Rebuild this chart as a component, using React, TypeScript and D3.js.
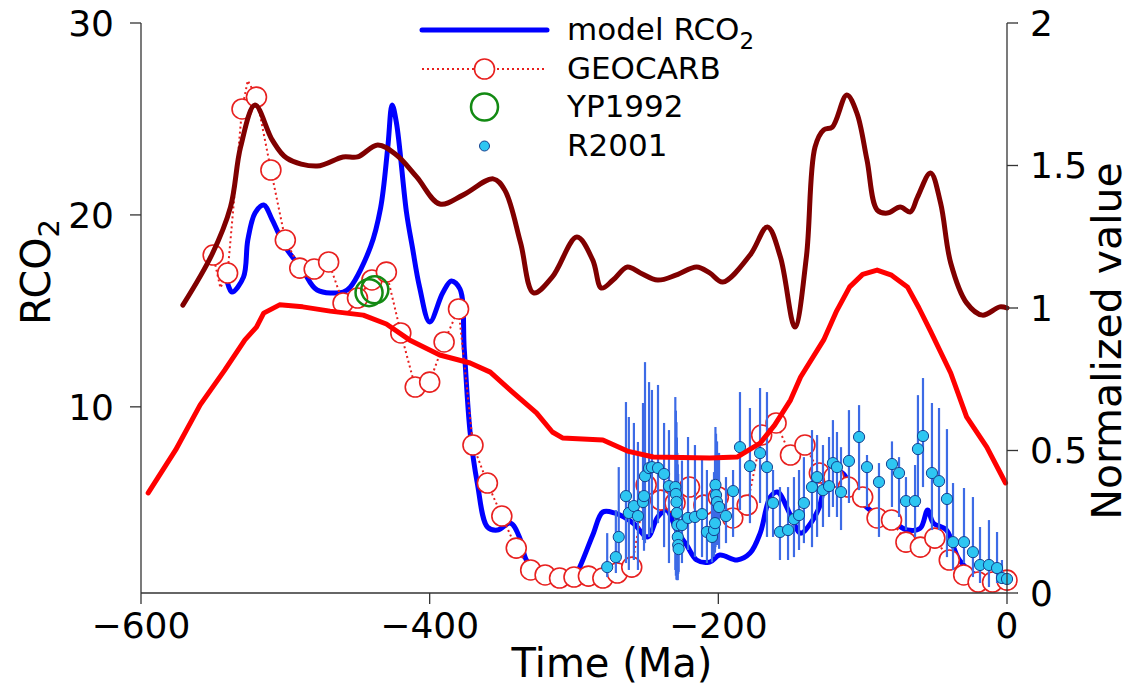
import React from "react";
import * as d3 from "d3";

// ---------- DATA ----------
const modelT = [-540, -537, -529, -526, -521, -515, -509, -500, -488, -478, -460, -455, -441, -434, -429, -426, -423, -416, -412, -407, -400, -391, -385, -379, -376, -372, -367, -360, -353, -344, -337, -333, -322, -310, -300, -296, -287, -280, -272, -259, -249, -242, -236, -229, -222, -215, -206, -199, -187, -178, -171, -164, -159, -150, -143, -136, -130, -123, -114, -104, -93, -81, -69, -60, -55, -51, -42, -33, -19, -7, 0];
const modelV = [16.45, 15.98, 16.76, 18.69, 20.1, 20.52, 19.73, 18.33, 17.13, 16.09, 15.98, 16.24, 18.33, 20.36, 23.54, 25.73, 24.79, 20.1, 18.33, 16.24, 14.42, 15.93, 16.56, 16.14, 12.96, 8.69, 6.03, 3.74, 3.58, 3.94, 3.06, 2.02, 1.2, 1.0, 1.1, 1.65, 3.32, 4.52, 4.47, 3.94, 3.22, 4.26, 4.62, 3.58, 2.8, 2.02, 1.91, 2.28, 2.02, 2.38, 3.42, 5.3, 5.56, 4.36, 3.42, 3.94, 4.78, 6.71, 6.55, 5.3, 4.52, 4.1, 3.58, 3.68, 4.62, 3.94, 3.58, 2.02, 1.13, 0.97, 0.97];

const geocarbT = [-550, -540, -530, -520, -510, -500, -490, -480, -470, -460, -450, -440, -430, -420, -410, -400, -390, -380, -370, -360, -350, -340, -330, -320, -310, -300, -290, -280, -270, -260, -250, -240, -230, -220, -210, -200, -190, -180, -170, -160, -150, -140, -130, -120, -110, -100, -90, -80, -70, -60, -50, -40, -30, -20, -10, 0];
const geocarbV = [17.91, 16.97, 25.52, 26.14, 22.34, 18.69, 17.23, 17.18, 17.55, 15.41, 15.67, 16.61, 17.02, 13.85, 11.03, 11.29, 13.38, 15.1, 8.01, 6.03, 4.31, 2.64, 1.5, 1.24, 1.08, 1.13, 1.18, 1.08, 1.34, 1.65, 5.93, 5.14, 4.99, 5.82, 4.88, 5.3, 4.21, 4.88, 8.53, 9.16, 7.49, 8.01, 6.55, 6.34, 5.82, 5.3, 4.21, 4.1, 2.95, 2.69, 3.16, 2.02, 1.24, 0.87, 0.87, 0.97];
// extra (unmarked) vertices of the GEOCARB dotted line
const geocarbExtraT = [-545, -526];
const geocarbExtraV = [16.2, 27.0];

const yp1992T = [-442, -438];
const yp1992V = [15.95, 16.1];

const r2001T = [-277, -271, -269, -264, -262, -258.5, -255.7, -252.2, -251.5, -250.8, -248, -246, -241.8, -237.6, -234.2, -229.8, -229.4, -229.0, -228.7, -228.4, -228.1, -227.8, -227.5, -225.2, -221, -216.2, -211.3, -207.9, -204.4, -203, -202.3, -202.0, -201.6, -200.9, -199.5, -194.7, -189.8, -185, -178.1, -171.1, -166.3, -162.1, -157.3, -151.7, -147.6, -144.1, -140.7, -135.1, -131.6, -127.5, -123.3, -120.6, -117.8, -115, -109.5, -102.5, -97, -88.7, -79.7, -74.8, -70, -63.7, -61.7, -58.2, -52, -47.1, -41.6, -37.4, -29.8, -23.6, -18.7, -12.5, -6.9, -3.5, 0];
const r2001V = [1.65, 2.17, 3.22, 5.35, 4.47, 4.83, 4.31, 5.04, 5.35, 6.39, 6.81, 6.86, 6.81, 6.5, 5.87, 5.82, 5.46, 5.04, 4.47, 3.84, 3.22, 2.8, 2.59, 3.84, 4.21, 4.26, 4.41, 3.48, 3.22, 3.58, 3.94, 5.93, 5.4, 5.04, 4.78, 4.31, 5.61, 7.9, 6.91, 7.59, 6.86, 4.99, 3.48, 3.58, 4.15, 4.36, 4.99, 5.82, 6.34, 5.66, 5.87, 7.07, 6.86, 5.56, 7.18, 8.43, 6.86, 6.08, 7.02, 6.55, 5.09, 5.09, 7.8, 8.48, 6.55, 6.13, 5.2, 2.95, 2.95, 2.43, 1.76, 1.76, 1.6, 1.08, 1.03];
const r2001Lo = [1.13, 1.34, 1.86, 1.86, 1.5, 2.02, 1.5, 3.06, 2.5, 2.9, 3.22, 3.42, 3.94, 2.69, 1.86, 1.5, 1.2, 1.0, 0.97, 1.1, 0.97, 1.3, 1.4, 1.86, 2.54, 2.17, 2.17, 1.86, 1.9, 2.2, 2.4, 2.69, 2.9, 2.8, 2.6, 2.9, 3.22, 4.62, 3.94, 4.99, 3.22, 3.22, 2.02, 2.02, 2.17, 2.54, 2.9, 2.69, 3.22, 3.74, 4.26, 4.78, 4.26, 3.58, 4.99, 5.66, 4.78, 3.22, 4.78, 4.26, 3.58, 3.22, 4.78, 5.82, 3.58, 3.58, 2.17, 1.5, 1.86, 1.13, 0.82, 0.61, 0.82, 0.82, 0.9];
const r2001Hi = [3.42, 4.62, 6.86, 10.25, 9.47, 9.16, 8.17, 10.2, 9.8, 12.33, 11.29, 10.88, 11.14, 9.16, 8.79, 10.51, 9.8, 9.2, 8.4, 7.6, 7.0, 6.5, 5.9, 7.2, 8.43, 8.01, 7.23, 6.71, 6.2, 6.6, 7.4, 8.95, 8.6, 8.2, 7.6, 6.34, 6.71, 10.77, 9.94, 10.98, 10.77, 6.71, 5.82, 5.82, 6.34, 6.71, 7.38, 8.79, 8.53, 8.01, 8.43, 9.31, 8.69, 7.9, 9.83, 10.09, 7.49, 7.07, 8.2, 7.38, 6.34, 6.97, 10.61, 11.5, 10.2, 9.94, 8.84, 6.03, 5.77, 5.3, 3.74, 4.1, 3.48, 2.02, 1.2];

// normalized curves (right axis)
const darkT = [-571, -551, -538, -531, -521, -509, -499, -478, -460, -450, -436, -423, -409, -393, -377, -356, -348, -337, -328, -315, -298, -287, -281, -273, -263, -254, -242, -229, -215, -206, -197, -178, -166, -157, -147, -139, -133, -127, -121, -111, -104, -97, -90, -83, -74, -67, -62, -53, -46, -39, -28, -17, -5, 0];
const darkN = [1.01, 1.186, 1.354, 1.565, 1.712, 1.589, 1.526, 1.498, 1.53, 1.53, 1.572, 1.537, 1.46, 1.365, 1.396, 1.453, 1.414, 1.228, 1.053, 1.109, 1.249, 1.168, 1.07, 1.098, 1.144, 1.123, 1.098, 1.116, 1.144, 1.123, 1.091, 1.186, 1.284, 1.179, 0.933, 1.179, 1.565, 1.625, 1.635, 1.747, 1.684, 1.519, 1.344, 1.333, 1.354, 1.337, 1.389, 1.474, 1.368, 1.158, 1.018, 0.975, 1.004, 1.0];

const redT = [-595, -576, -559, -542, -528, -520, -515, -504, -488, -469, -446, -430, -414, -393, -372, -358, -342, -326, -315, -308, -280, -263, -245, -206, -187, -171, -161, -150, -143, -127, -118, -109, -100, -90, -80, -69, -61, -53, -39, -28, -14, -1];
const redN = [0.351, 0.502, 0.66, 0.782, 0.888, 0.933, 0.982, 1.011, 1.004, 0.989, 0.975, 0.944, 0.888, 0.835, 0.807, 0.775, 0.702, 0.632, 0.565, 0.544, 0.537, 0.498, 0.477, 0.474, 0.477, 0.526, 0.589, 0.677, 0.758, 0.888, 0.99, 1.074, 1.118, 1.133, 1.115, 1.074, 1.0, 0.919, 0.772, 0.618, 0.512, 0.386];

const xTicks = [-600, -400, -200, 0];
const yLeftTicks = [10, 20, 30];
const yRightTicks = [0, 0.5, 1, 1.5, 2];
const rightTickLabels = ["0", "0.5", "1", "1.5", "2"];
const legendLabels = ["model RCO", "GEOCARB", "YP1992", "R2001"];

// ---------- CHART ----------
const W = 1131;
const H = 685;
const FONT = "DejaVu Sans, sans-serif";

const fmt = (v: number) => (v < 0 ? "\u2212" + Math.abs(v) : String(v));

export default function App() {
  const x = d3.scaleLinear().domain([-600, 0]).range([141, 1007]);
  const yL = d3.scaleLinear().domain([0.3, 30]).range([593, 23]);
  const yR = d3.scaleLinear().domain([0, 2]).range([593, 23]);

  const modelPts: [number, number][] = modelT.map((t, i) => [t, modelV[i]]);
  const modelLine = d3
    .line<[number, number]>()
    .x((d) => x(d[0]))
    .y((d) => yL(d[1]))
    .curve(d3.curveCatmullRom.alpha(0.5))(modelPts) as string;

  const gcAll: [number, number][] = geocarbT
    .map((t, i) => [t, geocarbV[i]] as [number, number])
    .concat(geocarbExtraT.map((t, i) => [t, geocarbExtraV[i]] as [number, number]))
    .sort((a, b) => a[0] - b[0]);
  const gcLine = d3
    .line<[number, number]>()
    .x((d) => x(d[0]))
    .y((d) => yL(d[1]))(gcAll) as string;

  const darkLine = d3
    .line<number>()
    .x((d, i) => x(darkT[i]))
    .y((d) => yR(d))
    .curve(d3.curveCatmullRom.alpha(0.5))(darkN) as string;

  const redLine = d3
    .line<number>()
    .x((d, i) => x(redT[i]))
    .y((d) => yR(d))(redN) as string;

  const axisColor = "#333";
  const tickFs = 36;
  const legX0 = 422;
  const legX1 = 547;
  const legMid = (legX0 + legX1) / 2;
  const legTextX = 567;
  const legRows = [30, 69, 107, 146];
  const legFs = 31;

  return (
    <svg
      width={W}
      height={H}
      style={{ position: "absolute", left: 0, top: 0, background: "#fff" }}
      fontFamily={FONT}
    >
      <rect x={0} y={0} width={W} height={H} fill="#fff" />

      {/* model line */}
      <path d={modelLine} fill="none" stroke="#0000ff" strokeWidth={5} strokeLinejoin="round" strokeLinecap="round" />

      {/* GEOCARB */}
      <path d={gcLine} fill="none" stroke="#e8201f" strokeWidth={2} strokeDasharray="2,3" />
      {geocarbT.map((t, i) => (
        <circle key={"g" + i} cx={x(t)} cy={yL(geocarbV[i])} r={10} fill="#fff" stroke="#e8201f" strokeWidth={1.6} />
      ))}

      {/* YP1992 */}
      {yp1992T.map((t, i) => (
        <circle key={"yp" + i} cx={x(t)} cy={yL(yp1992V[i])} r={13.5} fill="none" stroke="#138a13" strokeWidth={2.5} />
      ))}

      {/* R2001 error bars */}
      {r2001T.map((t, i) => (
        <line key={"e" + i} x1={x(t)} x2={x(t)} y1={yL(r2001Lo[i])} y2={yL(r2001Hi[i])} stroke="#3d6be6" strokeWidth={2.2} />
      ))}
      {r2001T.map((t, i) => (
        <circle key={"r" + i} cx={x(t)} cy={yL(r2001V[i])} r={5.6} fill="#2ec6f2" stroke="#14408f" strokeWidth={1} />
      ))}

      {/* normalized curves */}
      <path d={darkLine} fill="none" stroke="#800000" strokeWidth={5} strokeLinejoin="round" strokeLinecap="round" />
      <path d={redLine} fill="none" stroke="#ff0000" strokeWidth={5} strokeLinejoin="round" strokeLinecap="round" />

      {/* spines */}
      <line x1={141} x2={141} y1={yL(30)} y2={593} stroke={axisColor} strokeWidth={1.3} />
      <line x1={1007} x2={1007} y1={yR(2)} y2={593} stroke={axisColor} strokeWidth={1.3} />
      <line x1={141} x2={1007} y1={593} y2={593} stroke={axisColor} strokeWidth={1.3} />

      {/* x ticks */}
      {xTicks.map((t) => (
        <g key={"xt" + t}>
          <line x1={x(t)} x2={x(t)} y1={593} y2={604} stroke={axisColor} strokeWidth={1.3} />
          <text x={x(t)} y={638} textAnchor="middle" fontSize={tickFs} fill="#000">
            {fmt(t)}
          </text>
        </g>
      ))}
      {/* left ticks */}
      {yLeftTicks.map((v) => (
        <g key={"yl" + v}>
          <line x1={130} x2={141} y1={yL(v)} y2={yL(v)} stroke={axisColor} strokeWidth={1.3} />
          <text x={114} y={yL(v)} dy="0.36em" textAnchor="end" fontSize={tickFs} fill="#000">
            {v}
          </text>
        </g>
      ))}
      {/* right ticks */}
      {yRightTicks.map((v, i) => (
        <g key={"yr" + v}>
          <line x1={1007} x2={1018} y1={yR(v)} y2={yR(v)} stroke={axisColor} strokeWidth={1.3} />
          <text x={1030} y={yR(v)} dy="0.36em" textAnchor="start" fontSize={tickFs} fill="#000">
            {rightTickLabels[i]}
          </text>
        </g>
      ))}

      {/* axis labels */}
      <text x={612} y={677} textAnchor="middle" fontSize={40} fill="#000">
        Time (Ma)
      </text>
      <text transform="translate(50,272) rotate(-90)" textAnchor="middle" fontSize={41} fill="#000">
        RCO<tspan fontSize={29} dy={9}>2</tspan>
      </text>
      <text transform="translate(1121,341) rotate(-90)" textAnchor="middle" fontSize={41} fill="#000">
        Normalized value
      </text>

      {/* legend */}
      <line x1={legX0} x2={legX1} y1={legRows[0]} y2={legRows[0]} stroke="#0000ff" strokeWidth={5} strokeLinecap="round" />
      <line x1={legX0} x2={legX1} y1={legRows[1]} y2={legRows[1]} stroke="#e8201f" strokeWidth={2} strokeDasharray="2,3" />
      <circle cx={legMid} cy={legRows[1]} r={10} fill="#fff" stroke="#e8201f" strokeWidth={1.6} />
      <circle cx={legMid} cy={legRows[2]} r={13.5} fill="none" stroke="#138a13" strokeWidth={2.5} />
      <circle cx={legMid} cy={legRows[3]} r={5} fill="#2ec6f2" stroke="#14408f" strokeWidth={1} />
      {legendLabels.map((lab, i) => (
        <text key={"lt" + i} x={legTextX} y={legRows[i]} dy="0.33em" fontSize={legFs} fill="#000">
          {lab}
          {i === 0 ? (
            <tspan fontSize={23} dy={9}>
              2
            </tspan>
          ) : null}
        </text>
      ))}
    </svg>
  );
}
